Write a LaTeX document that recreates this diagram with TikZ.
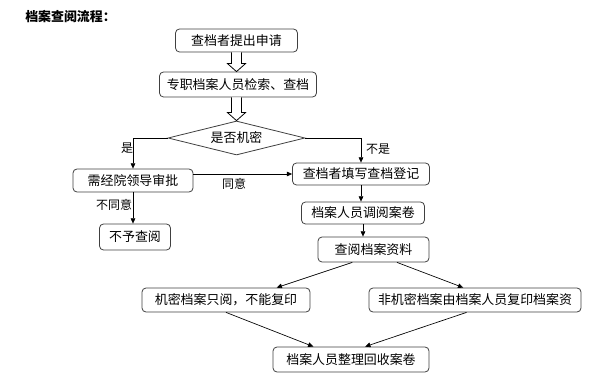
\documentclass[tikz,border=0pt]{standalone}
\usepackage{fontspec}
\setmainfont{Noto Sans CJK SC}
\usepackage{tikz}
\usetikzlibrary{shapes.geometric, arrows.meta, calc}

\begin{document}
\begin{tikzpicture}[
    x=0.75pt, y=-0.75pt,
    proc/.style={rectangle, rounded corners=3pt, draw=black!75, fill=white,
        line width=0.6pt, inner sep=0pt, font=\fontsize{9.7}{11}\selectfont},
    dec/.style={diamond, draw=black!75, fill=white, line width=0.6pt, inner sep=0pt,
        aspect=4, minimum width=102.75pt, minimum height=25.5pt,
        font=\fontsize{9.7}{11}\selectfont},
    lbl/.style={inner sep=0pt, font=\fontsize{9}{10}\selectfont},
    arr/.style={-{Triangle[length=4pt, width=3.5pt]}, line width=0.5pt, black},
    hollow/.style={draw=black, line width=0.6pt, fill=white, line join=miter}
]
    \useasboundingbox (0,0) rectangle (596,392);

    \node[anchor=west, inner sep=0pt, font=\fontsize{9.7}{11}\selectfont\bfseries] (title) at (25,17) {档案查阅流程：};

    \node[proc, minimum width=91.5pt, minimum height=17.25pt] (apply) at (236.5,40.5) {查档者提出申请};
    \node[proc, minimum width=117.75pt, minimum height=18.75pt] (search) at (238,84.5) {专职档案人员检索、查档};
    \node[dec] (secret) at (236.5,138) {是否机密};
    \node[proc, minimum width=90pt, minimum height=17.25pt] (lead) at (133,180.5) {需经院领导审批};
    \node[proc, minimum width=102.75pt, minimum height=16.5pt] (reg) at (361,174) {查档者填写查档登记};
    \node[proc, minimum width=53.25pt, minimum height=19.5pt] (deny) at (135,237) {不予查阅};
    \node[proc, minimum width=92.25pt, minimum height=16.5pt] (fetch) at (363,213) {档案人员调阅案卷};
    \node[proc, minimum width=83.25pt, minimum height=18.75pt] (view) at (373.5,249.5) {查阅档案资料};
    \node[proc, minimum width=126pt, minimum height=18pt] (readonly) at (226,300) {机密档案只阅，不能复印};
    \node[proc, minimum width=159pt, minimum height=18pt] (copy) at (475,300) {非机密档案由档案人员复印档案资};
    \node[proc, minimum width=117pt, minimum height=18.75pt] (back) at (351,359.5) {档案人员整理回收案卷};

    \foreach \a/\b in {apply/search, search/secret}
        \draw[hollow] let \p1=(\a.south -| secret.north), \p2=(secret.north |- \b.north) in
            (\x1-3.75pt,\y1) -- (\x1-3.75pt,\y2+6pt) -- (\x1-6.75pt,\y2+6pt) -- (\x1,\y2)
            -- (\x1+6.75pt,\y2+6pt) -- (\x1+3.75pt,\y2+6pt) -- (\x1+3.75pt,\y1);

    \draw[arr] (secret.west) -| (lead.north);
    \draw[arr] (secret.east) -| (reg.north);
    \draw[arr] (lead.east |- reg.west) -- (reg.west);
    \draw[arr] (lead.south) -- (lead.south |- deny.north);
    \draw[arr] (reg.south) -- (reg.south |- fetch.north);
    \draw[arr] (fetch.south) -- (fetch.south |- view.north);
    \draw[arr] ($(view.south west)!0.31!(view.south east)$) -- ($(readonly.north west)!0.8!(readonly.north east)$);
    \draw[arr] ($(view.south west)!0.71!(view.south east)$) -- ($(copy.north west)!0.445!(copy.north east)$);
    \draw[arr] (readonly.south) -- ($(back.north west)!0.26!(back.north east)$);
    \draw[arr] ($(copy.south west)!0.46!(copy.south east)$) -- ($(back.north west)!0.59!(back.north east)$);

    \node[lbl] (yes) at (127,148) {是};
    \node[lbl] (no) at (378,149) {不是};
    \node[lbl] (agree) at (234,184) {同意};
    \node[lbl] (disagree) at (114,205) {不同意};
\end{tikzpicture}
\end{document}
